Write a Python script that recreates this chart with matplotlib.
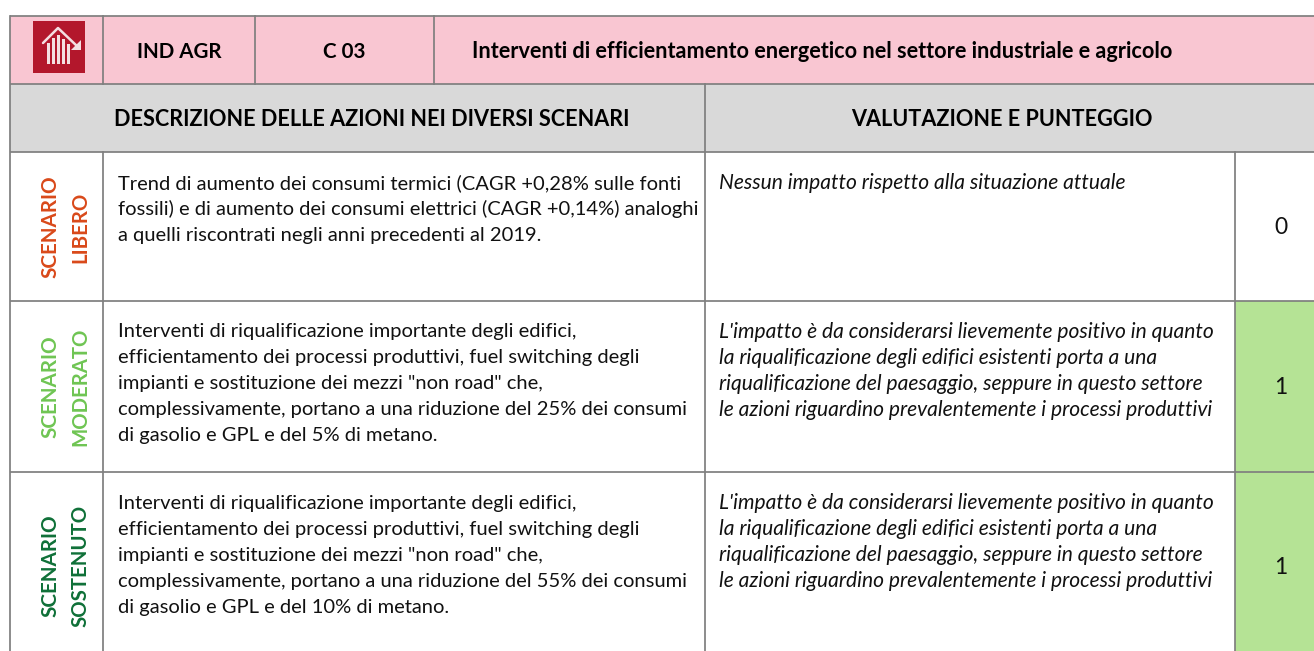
import matplotlib
matplotlib.use("Agg")
import matplotlib.pyplot as plt
from matplotlib.patches import Rectangle, Polygon

plt.rcParams['font.family'] = ['Lato', 'DejaVu Sans']

header_cells = ["IND AGR", "C 03", "Interventi di efficientamento energetico nel settore industriale e agricolo"]
section_titles = ["DESCRIZIONE DELLE AZIONI NEI DIVERSI SCENARI", "VALUTAZIONE E PUNTEGGIO"]
scenario_names = [["SCENARIO", "LIBERO"], ["SCENARIO", "MODERATO"], ["SCENARIO", "SOSTENUTO"]]
scenario_colors = ["#d9491a", "#6fc553", "#0f7038"]
scores = ["0", "1", "1"]
score_colors = ["white", "#b5e395", "#b5e395"]

descriptions = [
    ["Trend di aumento dei consumi termici (CAGR +0,28% sulle fonti",
     "fossili) e di aumento dei consumi elettrici (CAGR +0,14%) analoghi",
     "a quelli riscontrati negli anni precedenti al 2019."],
    ["Interventi di riqualificazione importante degli edifici,",
     "efficientamento dei processi produttivi, fuel switching degli",
     "impianti e sostituzione dei mezzi \"non road\" che,",
     "complessivamente, portano a una riduzione del 25% dei consumi",
     "di gasolio e GPL e del 5% di metano."],
    ["Interventi di riqualificazione importante degli edifici,",
     "efficientamento dei processi produttivi, fuel switching degli",
     "impianti e sostituzione dei mezzi \"non road\" che,",
     "complessivamente, portano a una riduzione del 55% dei consumi",
     "di gasolio e GPL e del 10% di metano."],
]
impact_text = ["L'impatto è da considerarsi lievemente positivo in quanto",
               "la riqualificazione degli edifici esistenti porta a una",
               "riqualificazione del paesaggio, seppure in questo settore",
               "le azioni riguardino prevalentemente i processi produttivi"]
evaluations = [["Nessun impatto rispetto alla situazione attuale"], impact_text, impact_text]

# table layout in pixels
W, H = 1314, 651
LEFT = 10
row_y = [16, 84, 152, 301, 472, 651]
header_x = [103, 255, 434]
mid_x = 705
score_x = 1235
label_offset = [75, 86, 94]
grid = "#7f7f7f"
lw = 1.25

fig = plt.figure(figsize=(W / 100, H / 100), dpi=100)
ax = fig.add_axes([0, 0, 1, 1])
ax.set_xlim(0, W)
ax.set_ylim(H, 0)
ax.axis("off")

ax.add_patch(Rectangle((LEFT, row_y[0]), W - LEFT, row_y[1] - row_y[0], color="#f9c6d2", lw=0))
ax.add_patch(Rectangle((LEFT, row_y[1]), W - LEFT, row_y[2] - row_y[1], color="#d9d9d9", lw=0))
for i in range(3):
    ax.add_patch(Rectangle((score_x, row_y[i + 2]), W - score_x, row_y[i + 3] - row_y[i + 2],
                           color=score_colors[i], lw=0))

# icon
ax.add_patch(Rectangle((33, 21), 52, 52, color="#b3172c", lw=0))
ax.plot([43, 58, 78], [43, 28, 47], color="#f4dfe2", lw=1.8, solid_capstyle="round")
ax.add_patch(Polygon([[81, 40], [81, 50], [71, 50]], color="#f4dfe2", lw=0))
for x, top in zip([47, 52, 57, 62, 67], [43, 38, 35, 39, 44]):
    ax.add_patch(Rectangle((x, top), 3.2, 64 - top, color="#f4dfe2", lw=0))

# grid lines
for y in row_y[:5]:
    ax.plot([LEFT, W], [y, y], color=grid, lw=lw, solid_capstyle="butt")
ax.plot([LEFT, LEFT], [row_y[0], H], color=grid, lw=lw)
for x in header_x:
    ax.plot([x, x], [row_y[0], row_y[1]], color=grid, lw=lw)
ax.plot([header_x[0], header_x[0]], [row_y[2], H], color=grid, lw=lw)
ax.plot([mid_x, mid_x], [row_y[1], H], color=grid, lw=lw)
ax.plot([score_x, score_x], [row_y[2], H], color=grid, lw=lw)

# header text
ax.text(179, 52, header_cells[0], fontsize=14.8, weight="bold", ha="center", va="center", color="black")
ax.text(344, 52, header_cells[1], fontsize=14.8, weight="bold", ha="center", va="center", color="black")
ax.text(822, 52, header_cells[2], fontsize=15.6, weight="bold", ha="center", va="center", color="black")
ax.text(372, 119, section_titles[0], fontsize=15.6, weight="bold", ha="center", va="center", color="black")
ax.text(1002, 119, section_titles[1], fontsize=15.6, weight="bold", ha="center", va="center", color="black")

line_h = 26
for i in range(3):
    top = row_y[i + 2]
    label_mid = top + label_offset[i]
    ax.text(50, label_mid, scenario_names[i][0], rotation=90, fontsize=14.9, weight="bold",
            color=scenario_colors[i], ha="center", va="center")
    ax.text(80, label_mid, scenario_names[i][1], rotation=90, fontsize=14.7, weight="bold",
            color=scenario_colors[i], ha="center", va="center")
    for j, line in enumerate(descriptions[i]):
        ax.text(118, top + 31 + j * line_h, line, fontsize=14.5, ha="left", va="center", color="#111111")
    for j, line in enumerate(evaluations[i]):
        ax.text(719, top + 31 + j * line_h, line, fontsize=15.1, style="italic", ha="left", va="center",
                color="#111111")
    ax.text(1281, label_mid + 1, scores[i], fontsize=16.5, ha="center", va="center", color="#111111")

fig.savefig("out.png", dpi=100)
